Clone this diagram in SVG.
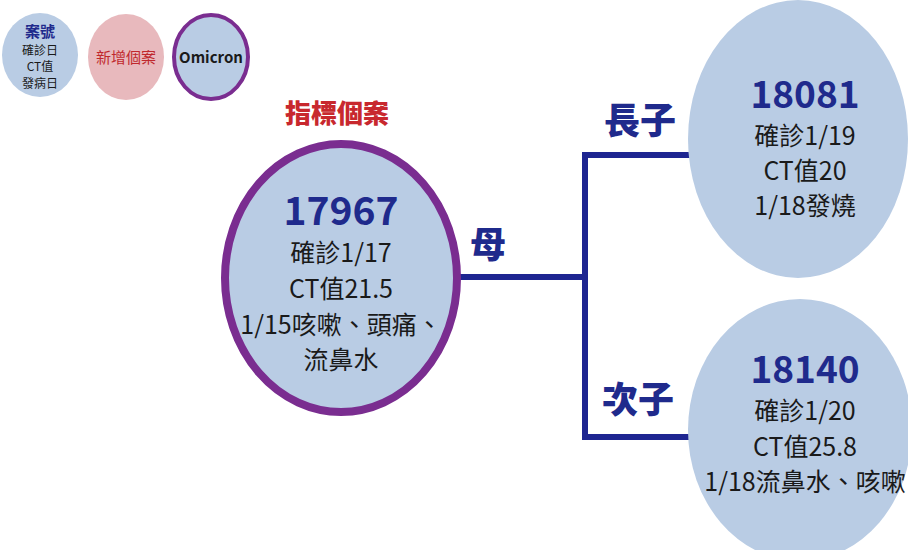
<svg xmlns="http://www.w3.org/2000/svg" width="908" height="550" viewBox="0 0 908 550">
<style>
.t{font-family:"Noto Sans CJK TC","Noto Sans",sans-serif;text-anchor:middle;fill:#1a1a1a}
.num{font-weight:bold;fill:#1f2a8c}
.lbl{font-weight:900;fill:#1f2a8c;font-size:36px}
.blue{fill:#b9cce4}
.conn{stroke:#1e2691;stroke-width:6;fill:none}
</style>
<rect width="908" height="550" fill="#ffffff"/>
<g id="legend-case">
<ellipse class="blue" cx="40" cy="55" rx="38" ry="42"/>
<text class="t num" x="40" y="37" font-size="15">案號</text>
<text class="t" x="40" y="55" font-size="12">確診日</text>
<text class="t" x="40" y="71" font-size="12">CT值</text>
<text class="t" x="40" y="88" font-size="12">發病日</text>
</g>
<g id="legend-new">
<ellipse cx="126" cy="57" rx="38" ry="43" fill="#e8b9bd"/>
<text class="t" x="126" y="63" font-size="15" style="fill:#c0282d">新增個案</text>
</g>
<g id="legend-omicron">
<ellipse class="blue" cx="211" cy="57" rx="37" ry="42" stroke="#7a2d90" stroke-width="4"/>
<text class="t" x="211" y="63" font-size="15" font-weight="bold">Omicron</text>
</g>
<g id="connectors">
<path class="conn" d="M460 277 H585 M585 155 V437 M582 155 H690 M582 437 H690"/>
</g>
<g id="edge-labels">
<text class="t lbl" x="488" y="258">母</text>
<text class="t lbl" x="640" y="134">長子</text>
<text class="t lbl" x="638" y="413">次子</text>
</g>
<g id="index-label">
<text class="t" x="337" y="123" font-size="26" font-weight="900" style="fill:#c8282e">指標個案</text>
</g>
<g id="case-17967">
<ellipse class="blue" cx="341" cy="278" rx="116" ry="134" stroke="#7a2d90" stroke-width="8"/>
<text class="t num" x="341" y="225" font-size="39">17967</text>
<text class="t" x="341" y="262" font-size="25">確診1/17</text>
<text class="t" x="341" y="298" font-size="25">CT值21.5</text>
<text class="t" x="341" y="334" font-size="25">1/15咳嗽、頭痛、</text>
<text class="t" x="341" y="369" font-size="25">流鼻水</text>
</g>
<g id="case-18081">
<ellipse class="blue" cx="798" cy="139" rx="110" ry="139"/>
<text class="t num" x="805" y="108" font-size="37">18081</text>
<text class="t" x="805" y="145" font-size="25">確診1/19</text>
<text class="t" x="805" y="180" font-size="25">CT值20</text>
<text class="t" x="805" y="215" font-size="25">1/18發燒</text>
</g>
<g id="case-18140">
<ellipse class="blue" cx="800" cy="430" rx="112" ry="131"/>
<text class="t num" x="805" y="383" font-size="37">18140</text>
<text class="t" x="805" y="420" font-size="25">確診1/20</text>
<text class="t" x="805" y="456" font-size="25">CT值25.8</text>
<text class="t" x="805" y="491" font-size="25">1/18流鼻水、咳嗽</text>
</g>
</svg>
